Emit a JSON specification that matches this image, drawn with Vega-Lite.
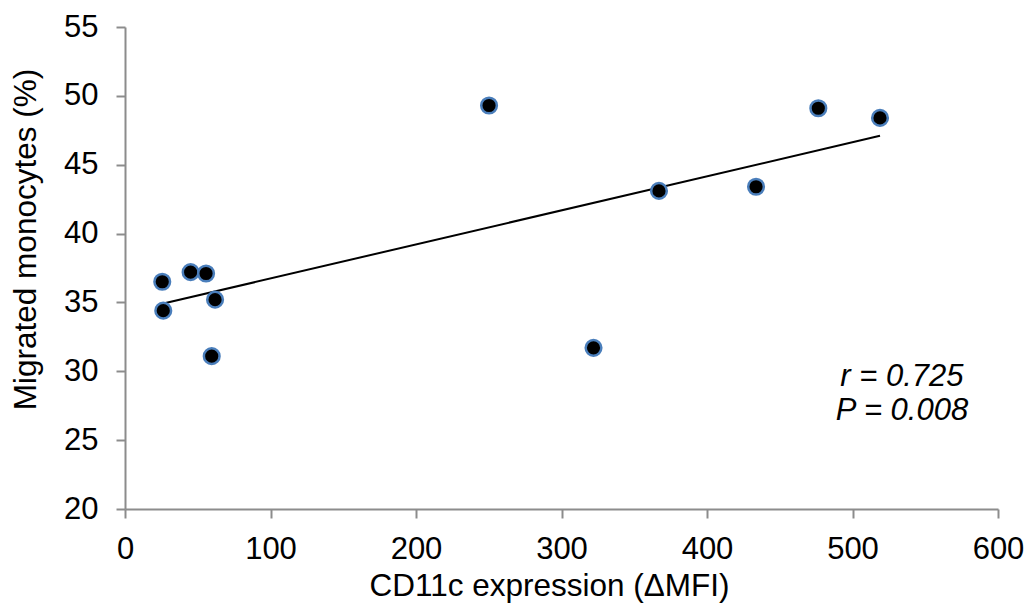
{
  "$schema": "https://vega.github.io/schema/vega-lite/v6.json",
  "autosize": "none",
  "width": 873,
  "height": 482,
  "padding": {"left": 125, "top": 27, "right": 29, "bottom": 106},
  "config": {
    "view": {"stroke": null},
    "font": "Liberation Sans",
    "axis": {
      "grid": false,
      "labelFlush": false,
      "labelOverlap": false,
      "domainColor": "#8c8c8c",
      "domainWidth": 2,
      "tickColor": "#8c8c8c",
      "tickWidth": 2,
      "tickSize": 9,
      "labelFont": "Liberation Sans",
      "labelFontSize": 31,
      "labelColor": "#000000",
      "titleFont": "Liberation Sans",
      "titleFontSize": 31.5,
      "titleFontWeight": "normal",
      "titleColor": "#000000"
    }
  },
  "datasets": {
    "points": [
      {"cd11c": 25.6, "migrated": 36.5},
      {"cd11c": 26.3, "migrated": 34.4},
      {"cd11c": 45.1, "migrated": 37.2},
      {"cd11c": 55.7, "migrated": 37.1},
      {"cd11c": 61.9, "migrated": 35.2},
      {"cd11c": 59.6, "migrated": 31.1},
      {"cd11c": 250.2, "migrated": 49.3},
      {"cd11c": 322, "migrated": 31.7},
      {"cd11c": 367, "migrated": 43.1},
      {"cd11c": 433.7, "migrated": 43.4},
      {"cd11c": 476.5, "migrated": 49.1},
      {"cd11c": 518.9, "migrated": 48.4}
    ],
    "trend": [
      {"cd11c": 25.6, "migrated": 34.9},
      {"cd11c": 518.9, "migrated": 47.1}
    ],
    "notes": [
      {"cd11c": 534, "migrated": 29.6, "label": "r = 0.725"},
      {"cd11c": 534, "migrated": 27.1, "label": "P = 0.008"}
    ]
  },
  "layer": [
    {
      "data": {"name": "trend"},
      "mark": {"type": "line", "color": "#000000", "strokeWidth": 2},
      "encoding": {
        "x": {
          "field": "cd11c", "type": "quantitative",
          "scale": {"domain": [0, 600], "nice": false, "zero": false},
          "axis": {"values": [0, 100, 200, 300, 400, 500, 600], "title": "CD11c expression (ΔMFI)", "labelBaseline": "alphabetic", "labelPadding": 40, "titleBaseline": "alphabetic", "titleY": 86, "titleX": 424, "titleAlign": "center"}
        },
        "y": {
          "field": "migrated", "type": "quantitative",
          "scale": {"domain": [20, 55], "nice": false, "zero": false},
          "axis": {"values": [20, 25, 30, 35, 40, 45, 50, 55], "title": "Migrated monocytes (%)", "labelPadding": 18, "titleBaseline": "alphabetic", "titleX": -90, "titleY": 212, "titleAlign": "center", "titleAngle": -90}
        }
      }
    },
    {
      "data": {"name": "points"},
      "mark": {"type": "point", "shape": "circle", "filled": true, "fill": "#000000", "stroke": "#4a7ebb", "strokeWidth": 2.5, "size": 245, "opacity": 1},
      "encoding": {
        "x": {"field": "cd11c", "type": "quantitative"},
        "y": {"field": "migrated", "type": "quantitative"}
      }
    },
    {
      "data": {"name": "notes"},
      "mark": {"type": "text", "font": "Liberation Sans", "fontSize": 31, "fontStyle": "italic", "color": "#000000", "align": "center", "baseline": "middle"},
      "encoding": {
        "x": {"field": "cd11c", "type": "quantitative"},
        "y": {"field": "migrated", "type": "quantitative"},
        "text": {"field": "label"}
      }
    }
  ]
}
